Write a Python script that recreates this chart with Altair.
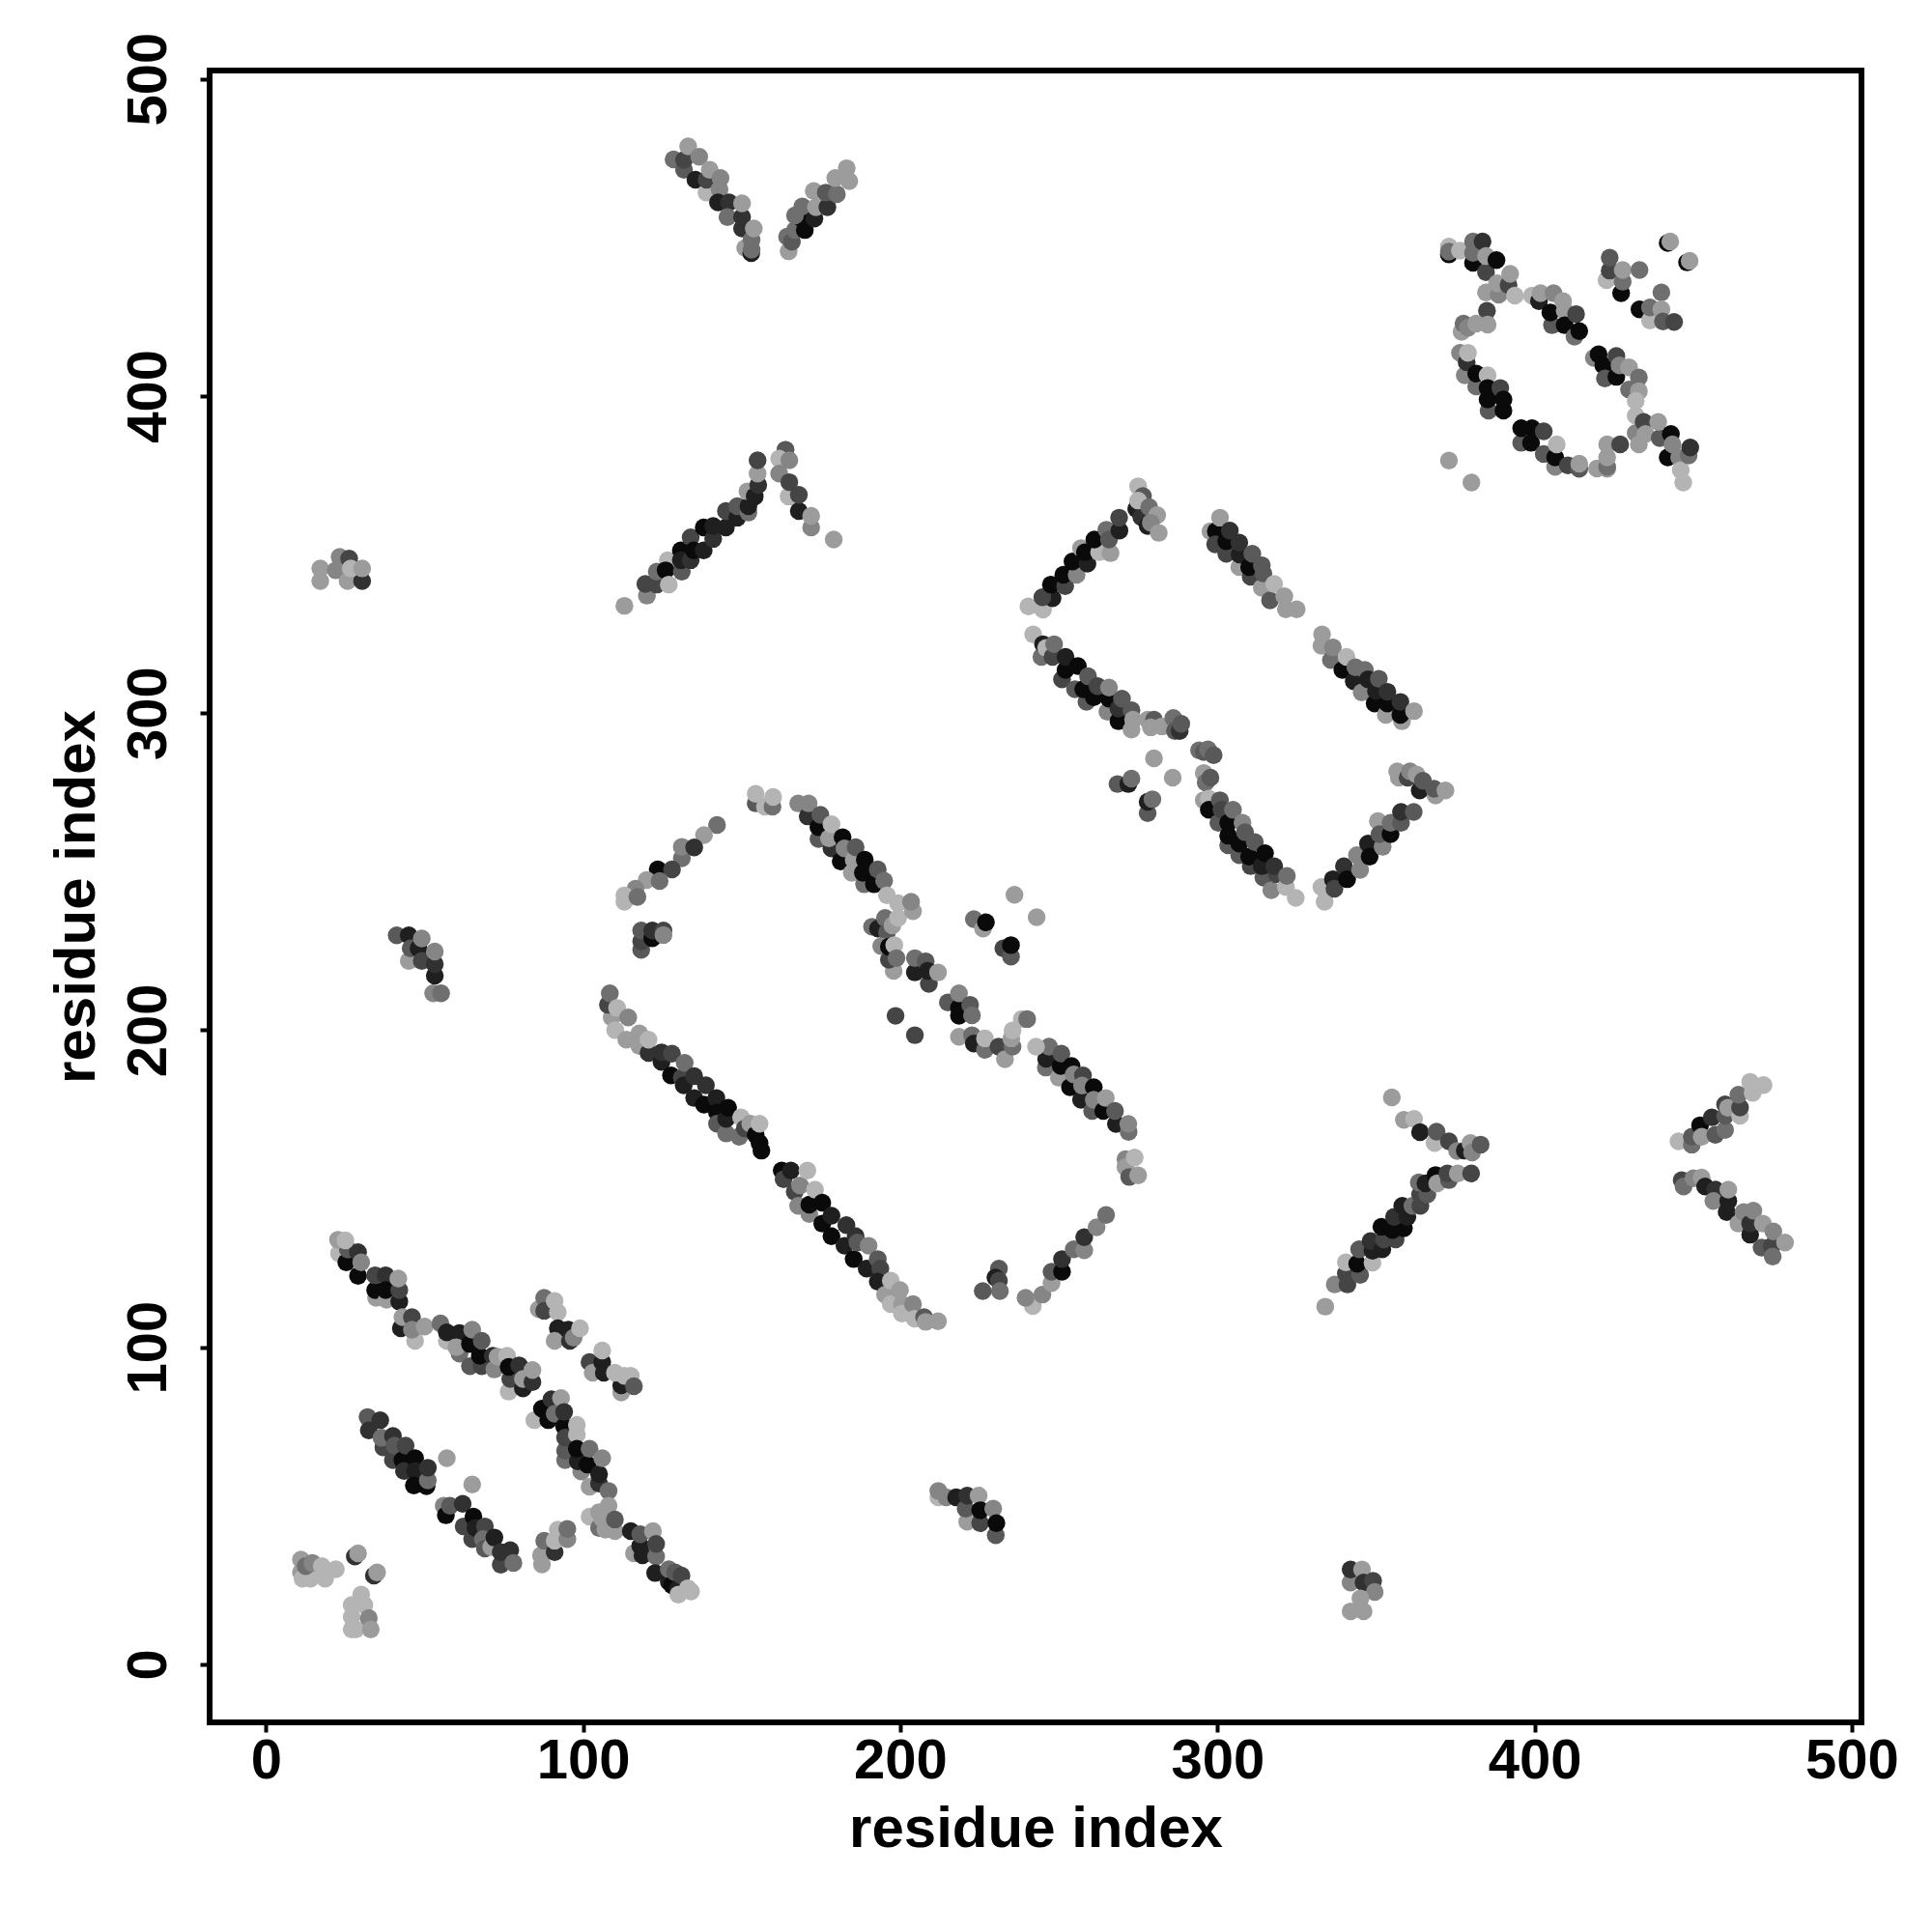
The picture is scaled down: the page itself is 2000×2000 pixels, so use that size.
import altair as alt
import pandas as pd

# each contact: (residue i, residue j, level)  level 0 = darkest, 0.8 = lightest
sheet_a = [(23,129.6,.8),(25.3,126.8,0),(29,122.5,0),(25.8,130.8,.4),(29,130,.2),(22.7,133.9,.7),(25,133.7,.8),(30,126.8,.6),
 (34.7,115.6,.7),(34.4,118,0),(34.4,122.7,.3),(37.7,122.7,.2),(38,115,.7),(37.7,118,0),(42,114.4,.1),(42,118,.3),(41.7,121.7,.7),
 (42.5,106,.1),(43,109.5,.7),(47,102,.8),(46,109.5,.3),(46,105.5,.6),(50,106.5,.7),(57,102,.8),(55,107.5,.5),(57,104.7,.1),
 (61,98,.5),(61,104.5,.1),(60,100,.7),(64.3,94,.4),(64.3,101,0),(65,105.5,.6),(68,94,.3),(67.4,97.3,0),(68,102,.4),
 (71.5,97.3,.2),(72,93,.6),(73,97,.7),(76,97.3,.8),(76.5,86,.8),(77,90,.3),(76.5,93.8,0),(79.8,94.3,.2),(81,87,.1),(81,90,.7),(84,89,.2),(84,92.8,.7)]
sheet_b = [(32,78,.4),(32.4,73.8,.2),(36,77,.2),(37,68.4,.3),(36.4,71.5,.5),(40,72,.2),(40,64.4,.3),(40.5,69,.4),(43,64.4,0),(43.5,61,.2),
 (44,69,.3),(47,65,0),(47,61,.1),(46.6,56.4,0),(50.6,56.2,0),(51,58,.5),(51,62,.2),(57,65,.7),(65,56.7,.7)]
sheet_c = [(56,50,.6),(56.7,47,0),(58,50,.4),(62,50.6,.2),(62.3,43.5,.3),(65.4,46.6,0),(65,39.5,.3),(66,43,.1),(69,43.5,.3),(68.4,39.5,.5),
 (69,36.5,.4),(71,37,.7),(72,40,.1),(74,31.4,.3),(74,35.4,.2),(77,36,.2),(78,32,.5)]
sheet_d = [(86.7,34.4,.7),(87,31.5,.7),(87.7,39,.5),(91,35.4,.2),(91,39,.8),(92,42.5,.8),(95,39.5,.6),(95,42.7,.5)]
corner = [(11,33,.7),(11,29,.7),(11.5,27,.8),(14,27,.8),(12.5,31,.5),(14.6,32,.6),(18.6,27,.8),(17.6,31,.8),(22,30,.8),
 (28,34,.2),(29,35,.7),(34,28,.2),(35,29,.7),(30,22,.8),(27,18.7,.8),(27,15,.8),(27,11,.8),(31,18.7,.8),(28.3,11,.8),(32.4,14.6,.6),(33,11,.7)]
sheet_e = [(86,112,.7),(87.7,115.6,.5),(87.7,111.5,.3),(91,114.6,.8),(92,111,.8),(92,106,.1),(91,102,.7),(95.3,105.5,.1),(95.8,102,.2),(97,103,.6),(99,106,.8),
 (102,95.3,.3),(103,92,.7),(106,95.3,.1),(106.5,92,.1),(106,99,.8),(112,85.7,.7),(112,88,.1),(110,92,.8),(113,91,.8),(115,91,.8),(116,87.7,.4)]
sheet_f = [(84.6,77,.8),(87,80.6,0),(89,77,0),(90,83.6,.2),(91,79,.5),(93,84,.7),(94,75,0),(94,79.6,.2),(94.3,64.4,.5),(94.3,67.4,.4),(94.3,71.5,.3),
 (98,75.5,.8),(98,72.5,.8),(99.4,60.8,.6),(98.3,64,.1),(98,68,0),(101.4,63,0),(102,68,.5),(102,56,.7),(105,57,.2),(105,60,.1),(106,65,.6),(108,54.7,.5),
 (102,46.6,.8),(105,48,.7),(108,50,.7),(105,43,.5),(107,42.5,.7),(110,42,.7),(106,46,.7),(110,45.7,.4),
 (116,35,.7),(115,42,.1),(118,37.4,.1),(118.7,34.4,.1),(118,41,.4),(122,42,.7),(123,34,.5),(123,38,.3),
 (122.7,28.8,.1),(127,26,.1),(127,30,.5),(128,25,0),(129,29,.4),(130,24,.1),(130,22,.8),(131,28,.3),(133,24,.8),(134,23,.8)]
helix_g = [(109,204,.7),(107.8,208,.3),(108.4,211.6,.5),(110.7,207,.8),(110.1,200,.8),(113.6,197,.7),(114.2,204,.6),(117.7,195,.7),(117.7,199,.7),(120.6,192.8,.2),(120.6,197,.8),
 (124.7,190,.1),(124.7,193,.2),(128,192.6,.3),(127.7,185.7,0),(131.1,185,.3),(131.7,182.6,.1),(132,189.7,.5),(135,178.6,.1),(135,185.5,.2),(138.1,176.5,0),(138.7,182.6,.2),
 (142,178.6,.1),(142.2,174,0),(142.2,170.5,.4),(145.1,167.4,.5),(145.1,172,.1),(145.7,175.5,0),(149.2,166.4,.5),(149.8,172.5,.8),(151,169,.3),(152.7,170.5,.7),(154.4,167,0),(155.6,164.4,0),(155.6,170.5,.8),(156.2,162,0)]
helix_h = [(162.6,155.7,0),(163.2,153,.3),(165.5,155.7,.1),(166.7,149,.3),(168.4,151,.6),(167.8,144.6,.6),(170.7,155.7,.8),(171.3,142,.6),(171.3,145,0),(173.1,149.7,.8),
 (175.4,139,0),(175.4,145.6,0),(178.3,135,0),(178.3,141.5,.1),(182.4,132,.1),(183,138.5,.2),(185.3,127.8,0),(185.9,135,.2),(186.5,133,.4),(189.4,124.8,.1),(190,132,.6),
 (192.9,127.8,.4),(193.7,124.8,.3),(192.9,120.7,.1),(195.2,116.6,.7),(197,121,.8),(197,113.6,.8),(199.9,118,.7),(200.5,113.6,.7),(200.5,110.6,.8),(204,113.6,.6),(204.5,109,.8),(207.5,109.5,.4),(208,108,.7),(211.9,108.2,.7)]
loop_i = [(231.1,124.8,.4),(230,122,.1),(231.1,121,.3),(231.4,117.7,.5),(226,117.7,.4),(241.8,113,.8),(239.5,115.6,.6),(244.8,116.6,.6),(247.7,120.2,.7),(247.7,123.8,.4),
 (251,123.8,0),(251,127.8,.2),(254.7,130.9,.5),(258,130.6,.6),(258,134.7,.2),(261.9,137.8,.6),(264.9,141.7,.5),(271,159.3,.6),(271,156.8,.7),(273.9,159.8,.8),(272.2,153.7,.4),(275,154.2,.7)]
helix_j = [(245.9,188.2,.5),(246,191,.1),(246.9,194.8,.5),(250,185,.7),(250.6,188.7,0),(250.8,192.6,.4),(253.5,182,0),(254,188.7,0),(254.7,186,.6),(257,178,.1),(257.6,185.7,.3),(257.3,182.5,.6),
 (260.5,174.5,.4),(261,182,0),(261,178,.6),(264,174.5,0),(264.8,178.6,.7),(268,170.4,.1),(267.7,174.5,.4),(272,167.9,.5),(271.9,170.4,.6)]
helix_j2 = [(218.5,197.9,.7),(222.6,198.4,.5),(223.2,195.8,.1),(226.7,193.8,.5),(226.7,197.4,.8),(232.5,193.8,.5),(231,194.8,.3),(233,190.8,.7),(235.4,194.8,.5),(235,197.4,.7),(235.4,199.9,.8),
 (238.3,203.5,.8),(240,203.5,.5),(242.8,194.8,.8),(198.5,204.5,.3),(204.6,198.4,.3),(215,208.7,.4),(218.5,204.5,0),(218.5,207,0),(218.5,211.6,.6),(222,208,.4),(222.6,204.7,.5)]
sheet_k = [(142.2,264.7,.5),(138.1,261.5,.7),(131.1,254.2,.5),(131.1,257.8,.6),(135,257.6,.2),(123.5,250.7,0),(128,250.7,.3),(120,247.3,.7),(124.1,247,.5),(116.5,244.6,.6),(113,240.5,.8),(113,242.5,.8),(117.1,242,.5),
 (118.3,225.3,.4),(118.3,228,.3),(118.3,231.4,.4),(121.8,229,0),(121.8,231.4,.2),(125.3,231.4,.3),(125.3,230,.6)]
sheet_l = [(154.4,271.5,.4),(154.4,274.5,.8),(157.3,270.5,.8),(159.7,270.5,.5),(159.9,273.5,.8),(167.8,271.5,.6),(170.8,267.4,.2),(171.1,271.5,.6),(174.2,260.3,.4),(174.2,264,0),(174.8,267.9,.4),(178.3,257.3,.2),(177.5,260.5,.7),(178.3,264.9,.8),
 (181.2,253.2,0),(181.8,260.8,0),(182.4,257.3,.6),(184.7,249.6,.7),(185.3,253.7,.7),(185.9,257.7,.4),(188.6,246,.5),(188.2,249.6,0),(188.8,253.7,0),(191.7,246,0),(192.9,250.7,.4),(194.9,247.1,.5),
 (191.1,232.6,.5),(193,232,.1),(195.2,235.4,.5),(195.8,230.9,.4),(197.5,233,.7),(199.3,235.4,.8),(195.8,242.5,.8),(199.3,240,.8),(204,237.5,.7),(203.4,240.5,.6),
 (194,226.5,.6),(197.9,218.7,.7),(196.4,222.2,.3),(196.4,226.3,0),(198.1,226.8,.8),(198.8,222.7,.5),(209,214.6,.3),(204.6,218.2,.1),(204.6,222.7,.5),(208,221.7,.4),(208.6,218.7,.1),(211.9,218.2,.7)]
small_m = [(223.2,235,.5),(226.1,232,.7),(227,234,0),(232.5,225.8,.3),(234.9,223.2,.4),(234.9,226.8,0),(236,242.7,.7),(243,235.6,.7)]
sheet_n = [(240.4,333.6,.8),(245,332.6,.8),(248,336.2,.1),(244.8,336.5,.3),(247.5,340.5,0),(252,340,.3),(251.4,343.6,0),(255.6,343.6,.6),(254.3,347.8,0),(259,347.1,.1),(257,352,.7),(258.2,350.7,0),(262.7,350.7,.8),(266.3,350.4,.7),(261.2,354.7,0),(265,357.8,.5),(265.8,354.7,.4),(269.1,357.5,.1),(269,361.6,.3),
 (274.4,364.4,.1),(276,361.8,.2),(278,359,.1),(275,371.5,.8),(276.5,368.4,.4),(275,367,.8),(278.5,364.9,.5),(281,362.4,.7),(279,360,.6),(281.5,356.8,.7)]
sheet_o = [(297.8,357.3,.7),(299.5,357.3,0),(300.8,361.6,.7),(299.3,353.2,.3),(302.8,350.2,.3),(302.8,354.2,0),(303.9,357.5,.2),(306.9,346,.7),(307,350,.1),(306.9,353.7,.2),(310.5,343,.3),(310,346,0),(311,350.2,.4),(314,339.5,.7),(314,346.6,.4),(314.5,344,.4),(316.6,335.5,.4),(317.9,340.7,.8),(321.1,336.8,.7),(321.6,332.7,.7),(325,332.7,.7)]
sheet_p = [(333,324.8,.7),(332.8,321.2,.7),(335.8,316.7,.5),(336.4,320.7,.6),(339.4,313.6,0),(340.7,317.7,.8),(343,310,.1),(343.5,314.4,.5),(345.5,306.5,.6),(346.5,313.6,.5),(347.5,310.6,.1),(349.6,303,0),(350,307,.1),(350.9,310.8,.4),
 (353.1,299.4,.7),(353.6,303,0),(353.6,306.7,.2),(358.2,297.4,.7),(357.7,299.4,0),(357.7,303.5,.2),(362,300.6,.7)]
sheet_q = [(241.9,324.8,.8),(244.5,317.7,.5),(245,321.7,.1),(246,320.5,.8),(248,317.7,.3),(248.5,321.7,.5),(251,310.6,.3),(252.1,313.6,0),(252.1,317.7,.1),(255.1,307.5,.4),(256,314.8,0),(258.7,303.5,.4),(257.7,307.5,0),(259.2,311.6,.4),
 (261,305,0),(262.2,308.5,.3),(265.3,300.4,.6),(265.8,304.5,0),(265.8,308,.6),(268.8,297.4,0),(268.8,301.4,.2),(269.9,304.5,.4),(272.9,294.8,.7),(272.9,300.9,.4),(273.4,297.9,.7),
 (278,297.9,.7),(280,297.9,.4),(279,295.5,.7),(282.5,295.8,.7),(286.1,298.4,.5),(286.6,294.3,.4),(288.1,294.3,.2),(288.6,296.6,.4)]
small_r = [(280,285.7,.7),(285.9,279.6,.7),(268.5,277.6,.4),(271.9,277.6,.1),(272.9,279.3,.5),(278,268.4,.4),(278,272,.1),(279.5,272.8,.5)]
sheet_s = [(294.2,288.2,.5),(295.7,287.7,.4),(297,288.5,.5),(298.8,286.7,.4),(295.7,281.1,.7),(296.3,278.1,.5),(297.8,279.6,.4),(295.7,272.5,.7),(297.3,273,.8),(297.3,269.5,0),(300.3,265.4,.4),(300.8,272.5,.4),(301.3,269.5,.3),
 (303.4,258.3,.4),(303.4,261.3,0),(303.4,265.4,0),(304.9,269.5,.5),(306.9,255.2,.4),(306.9,258.8,0),(307.9,265.4,.6),(308.7,262.4,.4),(310.5,251.7,.3),(310,254.7,0),(311.8,259.3,.4),(314.5,248.1,.4),(314,251.7,.1),(315,255.8,0),
 (317,244.1,.6),(318.6,249.2,.3),(317.9,251.7,.2),(321.6,245.1,.8),(321.9,248.6,.5),(324.7,241.7,.8)]
sheet_t = [(332.8,245.1,.8),(333.8,240.5,.8),(336.4,247.6,.1),(336.9,244.6,.3),(339.9,251.7,.2),(340.9,247.6,0),(344,255.2,.6),(345,250.5,.6),(347.5,258.8,.1),(348,254.7,0),(352.1,257.8,.6),(350.6,265.9,.7),(351.1,261.8,.4),(354.6,261.8,0),(354.6,265.4,.5),(357.9,265.4,.4),(357.9,268.8,.2),(361.9,268.8,.4),
 (356.7,281.6,.7),(357.2,279.6,.7),(360,279.6,.3),(360.7,281.6,.6),(362.8,280.6,.7),(363.8,275.6,.1),(364.8,278.6,.4),(368.8,274,.7),(368.3,276.1,.4),(371.9,275.6,.7)]
knot_u = [(373,444.6,0),(373,447.1,.8),(373,445.5,.5),(376.5,445.8,.8),(380.6,442,0),(380.6,445.1,.5),(380.6,448.7,.5),(383.6,448.7,.2),(384.7,439,.3),(384.7,444.1,.7),(388,442.8,0),
 (384.7,432.6,.7),(388.7,431.9,.6),(388.2,435.5,.7),(391.8,435,.3),(392.3,438.5,.7),(393.8,431.6,.8),(399.2,431.6,.8),(401.4,429.9,.1),(401.9,432.4,.7),(405.5,422.3,.4),(405,426.3,0),(406,432.4,.6),(409,429.9,.7),(409.5,426.8,.7),
 (409.5,422.3,0),(412.6,418.7,.5),(413.1,425.8,.3),(414.1,420.4,0)]
knot_v = [(385,426.8,.3),(377,420.2,.7),(377.6,422.8,.5),(379,421.5,.6),(381.6,422.8,.7),(385.2,422.5,.7),
 (376.5,413.6,.6),(378,406.5,.6),(378.6,410.6,.2),(379,413.6,.8),(381.6,403,.5),(381.6,407,0),(385.2,406.5,.8),(385.5,395.4,.4),(385.2,398.9,0),(385.2,402.5,0),(389.2,402.5,.3),(390.2,395.4,0),(390.2,398.9,0),
 (395.8,385.2,.4),(395.8,389.8,0),(398.9,385.2,0),(399.2,389.8,0),(402.9,381.7,.4),(402.9,388.8,.3),(406.5,377.6,.6),(406.5,380.6,0),(407,384.7,.8),(410.5,378.1,.3),(414.1,377,.4),(414.1,378.6,.7),(373,379.6,.7),(380.1,372.7,.7)]
knot_w = [(419.7,377.1,.7),(422.9,377,.7),(422.9,377.6,.5),(422.9,380.6,.7),(422.9,384.7,.7),(427,384.7,.3),
 (418.7,412,.6),(420.2,413.1,0),(421.7,409.6,0),(422.2,405.5,.4),(425.8,406,0),(425.8,412.6,.3),(426.8,409.6,.6),(429.8,402,.5),(429.8,409,.7),(432.9,405.8,.5),(432.9,401.5,.7),(431.9,398.4,.8),(431.9,388.3,.6),(431.9,393.8,.8),(434.4,391.8,.3),(432.9,384.7,.7),(435,388,.7),
 (439.5,386.7,.4),(439,391.8,.7),(442,380.6,0),(443,388,0),(443.5,384.7,.6),(445.6,380.6,.6),(446.1,376.6,.8),(446.9,372.7,.8),(448.6,381.2,.5),(449.1,383.7,.2)]
knot_x = [(422.7,436.5,.8),(423.7,439.5,.3),(423.7,443.6,.4),(427.3,432.4,0),(427.8,436,.5),(427.8,439.7,.7),(433.1,439.7,.5),(440,432.6,.5),(433.1,427.3,0),(436.4,423.8,.8),(436.4,427.9,.5),(440,427.3,.7),(440.5,423.5,.4),(444,423.3,.3),(442,448.2,0),(442.8,448.7,.7),(448.1,442.1,0),(448.9,442.6,.7)]
vee_y = [(128.5,474.6,.5),(131.8,471.3,.4),(131.8,474.4,.3),(133.1,478.7,.7),(135.4,468.2,.1),(136.6,475.4,.6),(138.9,464.1,.8),(138.9,468.2,.3),(139.9,471.3,.7),(143,465.1,.6),(143.3,468.7,.6),(142.5,461,.1),(146,461,.2),(145.5,456.4,.5),
 (150.1,452.8,.2),(150.1,456.4,.2),(150.1,460.7,.7),(151.1,446.6,.7),(153,445,.1),(153.1,446.1,.5),(153.1,449.2,.5),(153.8,452.8,.7)]
vee_z = [(164.3,450.2,.5),(164.8,445.6,.7),(165.8,448.6,.4),(166.8,452.3,.5),(169.9,452.3,0),(168.9,455.9,0),(166.8,456.9,.5),(169.1,459.7,.5),(172.9,455.9,.1),(173.4,459.5,.7),(172.7,464.6,.7),(177,459.5,.2),(176.5,464.1,.4),(180,463.6,.5),(179.5,468.7,.7),(183.1,471.8,.7),(183.9,467.7,.7)]
lam_a = [(113,333.8,.7),(120.1,337,.6),(119.6,340.7,.3),(123.2,340.5,.3),(123.2,344.6,.5),(126.7,348.2,.8),(126,345,0),(127,340.5,.8),(131.1,344.6,.4),(130.8,351.3,0),(130.8,348.2,.1),(133.9,355.4,.3),(133.9,348.2,.2),(134.9,351.3,0),(138,351.3,.1),(138,358.5,0),(141,354.9,.2),(141,359,.1),(145,358.5,.1),(145,363.7,.3),
 (148.6,361.6,.1),(148.6,365.2,.4),(152.1,363.2,.5),(152.1,365.2,.1),(151.8,369.9,.7),(154.1,368.3,.1),(155.2,371.9,.2),(155,375.5,.7),(155,379.7,.3)]
lam_b = [(163.8,383,.7),(163.8,383,.4),(161.8,380.2,.8),(161.8,375.5,.6),(164.8,368.3,.8),(165,379.7,.6),(165,372.8,.3),(168,363.7,.1),(168,368.8,.3),(171.9,358.5,.6),(171.9,362.2,.7),(179,354.7,.7)]
arrow_c = [(355,178.8,.7),(358.8,171.7,.7),(362,172,.8),(363.9,167.8,.1),(368.5,164.4,.8),(369.1,168,.4),(373,164.9,.3),(375.6,161.9,.6),(378,162,.1),(379.8,164.4,.7),(380.3,161.4,.6),(383,163.9,.4)]
arrow_d = [(334,112.8,.7),(337,119.8,.6),(341,119.8,.3),(340.5,123.3,.3),(340.5,126.8,.8),(345,122.8,.4),(344.1,126.3,0),(348.9,126.7,.8),(344.7,130.9,.4),(348.9,130.4,.1),(348.3,133.5,.2),(352,130.9,.1),(352.5,134,.3),(356.2,134,.3),(351.7,138,0),(355.2,137,0),(358.8,137.5,0),(355.7,141.1,.2),(359.9,141.1,.1),
 (358.3,144.6,.1),(361.5,144.6,.5),(364,144.6,.3),(363.9,148.2,.3),(366.2,148.2,.4),(363.5,152,.5),(365.6,151.7,.1),(368.8,154.3,0),(369.3,151.7,.7),(373,152.7,.4),(372.5,154.8,.3),(375.8,154.8,.7),(380,154.8,.3)]
arrow_e = [(445.4,164.9,.8),(449.6,163.9,.5),(449.6,166.4,.4),(452.2,170,0),(452.7,166.4,.7),(455.9,172.5,.2),(457,167,.4),(460.1,168.5,.5),(460.1,173,.4),(460.1,176.6,.3),(461,175.5,.7),(464.8,173,.8),(464.8,175.6,.3),(464.3,179.6,.5),(468.8,180.2,.8),(468,183.7,.8),(472.2,182.7,.8)]
arrow_f = [(446.4,152.7,.3),(447,150.7,.5),(450.1,153.3,.6),(452.7,153.5,.7),(453.8,150.7,.1),(457,149.7,.2),(456.4,146.1,.6),(460.6,142.6,.1),(461.1,146.1,.1),(461.1,149.7,.7),(464.3,139,.7),(465.9,142.6,.6),(468,135.5,.1),(468,139,.2),(469,143.1,.6),(471.6,131.4,.4),(472,139,.7),(474.8,131.9,.3),(475.1,128.6,.5),(475.3,136.5,.6),(479,133,.7)]
patch_g = [(17.1,341.6,.7),(17.1,345.6,.7),(23.2,349.2,.6),(22,345,.6),(25.7,341.6,.7),(26.2,348.7,.3),(30.3,341.6,.2),(26.7,345.6,.8),(30.3,345.6,.7)]
patch_h = [(41.2,229.9,.4),(45,229.9,.1),(45,221.8,.7),(45.6,225.8,.4),(48.1,225.8,.1),(49.1,221.8,.3),(49.1,228.9,.6),(53.2,217.2,.1),(53.2,220.8,.2),(53.2,224.8,.6),(52.7,211.6,.6),(55.2,211.6,.5)]
patch_i = [(212,52.7,.8),(212,54.7,.6),(214.5,52.7,.6),(217.6,52.7,.1),(221.1,45,.7),(220.6,49.1,.4),(221.1,53.2,.2),(224.7,53.2,.7),(225.2,44.5,.3),(225.2,48.6,0),(229.3,49.1,.6),(230.1,40.7,.4),(230.3,44.5,0)]
patch_j = [(342,25.8,.6),(342,29.9,.2),(345.6,29.9,.7),(346.1,25.8,.2),(349.1,26.3,.3),(349.6,22.8,.6),(345.1,20.8,.7),(342,16.7,.7),(346.1,16.7,.7)]

groups = [sheet_a, sheet_b, sheet_c, sheet_d, corner, sheet_e, sheet_f, helix_g, helix_h, loop_i, helix_j, helix_j2,
          sheet_k, sheet_l, small_m, sheet_n, sheet_o, sheet_p, sheet_q, small_r, sheet_s, sheet_t,
          knot_u, knot_v, knot_w, knot_x, vee_y, vee_z, lam_a, lam_b, arrow_c, arrow_d, arrow_e, arrow_f,
          patch_g, patch_h, patch_i, patch_j]
rows = [r for g in groups for r in g]
df = pd.DataFrame(rows, columns=["i", "j", "level"])

ticks = [0, 100, 200, 300, 400, 500]
FONT = "Liberation Sans"

chart = (
    alt.Chart(df)
    .mark_circle(size=340, opacity=1)
    .encode(
        x=alt.X("i:Q", scale=alt.Scale(domain=[-17.8, 503.1], nice=False, zero=False),
                axis=alt.Axis(values=ticks, title="residue index", grid=False, format="d", tickSize=10, tickWidth=4,
                              tickColor="black", domain=False, labelFontSize=58, labelFont=FONT, labelFontWeight="bold",
                              labelColor="black", labelPadding=1, labelOverlap=False, labelFlush=False, labelBound=False,
                              titleFontSize=60, titleFont=FONT, titleFontWeight="bold", titleColor="black", titlePadding=12)),
        y=alt.Y("j:Q", scale=alt.Scale(domain=[-18.3, 502.6], nice=False, zero=False),
                axis=alt.Axis(values=ticks, title="residue index", grid=False, format="d", tickSize=10, tickWidth=4,
                              tickColor="black", domain=False, labelFontSize=58, labelFont=FONT, labelFontWeight="bold",
                              labelColor="black", labelAngle=-90, labelAlign="center", labelBaseline="bottom", labelPadding=24,
                              labelOverlap=False, labelFlush=False, labelBound=False,
                              titleFontSize=60, titleFont=FONT, titleFontWeight="bold", titleColor="black", titlePadding=15)),
        color=alt.Color("level:Q", scale=alt.Scale(domain=[0, 0.8], range=["#0a0a0a", "#b4b4b4"]), legend=None),
    )
    .properties(width=1710, height=1710, background="white",
                autosize=alt.AutoSizeParams(type="none"),
                padding={"left": 209, "top": 65, "right": 60, "bottom": 190})
    .configure_view(stroke="black", strokeWidth=6)
)
chart.save("out.html", embed_options={"renderer": "svg", "actions": False})
